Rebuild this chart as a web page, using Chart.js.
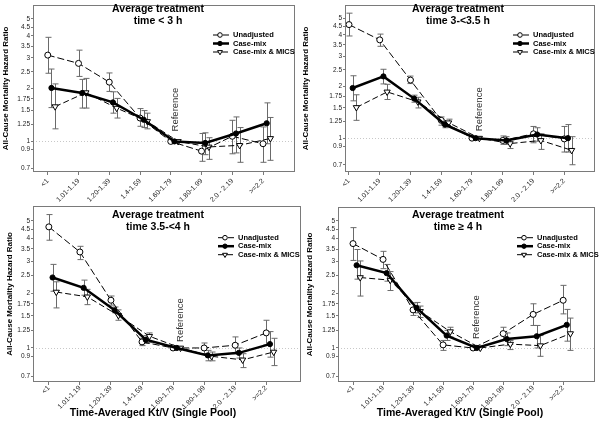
<!DOCTYPE html>
<html>
<head>
<meta charset="utf-8">
<script src="https://cdn.jsdelivr.net/npm/chart.js@4.4.0/dist/chart.umd.min.js"></script>
<style>
  body { margin: 0; background: #fff; width: 600px; height: 425px; position: relative; overflow: hidden; }
  canvas { position: absolute; }
</style>
</head>
<body>
<canvas id="p1" width="300" height="212" style="left:0;top:0"></canvas>
<canvas id="p2" width="300" height="212" style="left:300px;top:0"></canvas>
<canvas id="p3" width="306" height="225" style="left:0;top:200px"></canvas>
<canvas id="p4" width="300" height="225" style="left:300px;top:200px"></canvas>
<script>
// Kt/V categories and y ticks
const categories = ['<1', '1.01-1.19', '1.20-1.39', '1.4-1.59', '1.60-1.79', '1.80-1.99', '2.0 - 2.19', '>=2.2'];
const yTicks = [0.7, 0.9, 1, 1.25, 1.5, 1.75, 2, 2.5, 3, 3.5, 4, 4.5, 5];
const seriesNames = ['Unadjusted', 'Case-mix', 'Case-mix & MICS'];
const titleLines = ['time < 3 h', 'time 3-<3.5 h', 'time 3.5-<4 h', 'time \u2265 4 h'];
const xAxisTitle = 'Time-Averaged Kt/V (Single Pool)';
const yAxisTitle = 'All-Cause Mortality Hazard Ratio';
const refIndex = 4;

// time < 3 h
const t1Unadj = [3.11, 2.79, 2.18, 1.36, 1, 0.88, 1.07, 0.97];
const t1UnadjLo = [2.45, 2.35, 1.93, 1.22, null, 0.77, 0.85, 0.76];
const t1UnadjHi = [3.93, 3.32, 2.46, 1.54, null, 1.11, 1.32, 1.21];
const t1Case = [2.02, 1.89, 1.67, 1.33, 1, 0.98, 1.11, 1.27];
const t1CaseLo = [1.56, 1.55, 1.45, 1.2, null, 0.84, 0.86, 0.97];
const t1CaseHi = [2.59, 2.26, 1.92, 1.5, null, 1.12, 1.38, 1.66];
const t1Mics = [1.58, 1.9, 1.55, 1.3, 1, 0.93, 0.95, 1.04];
const t1MicsLo = [1.18, 1.55, 1.36, 1.18, null, 0.79, 0.76, 0.78];
const t1MicsHi = [2.13, 2.29, 1.76, 1.45, null, 1.05, 1.2, 1.37];

// time 3-<3.5 h
const t2Unadj = [4.59, 3.74, 2.18, 1.27, 1, 0.97, 1.06, 0.99];
const t2UnadjLo = [3.94, 3.43, 2.08, 1.19, null, 0.92, 0.94, 0.83];
const t2UnadjHi = [5.35, 4.04, 2.3, 1.33, null, 1.03, 1.17, 1.17];
const t2Case = [1.96, 2.29, 1.7, 1.2, 1, 0.97, 1.05, 1.0];
const t2CaseLo = [1.65, 2.07, 1.62, 1.15, null, 0.92, 0.96, 0.83];
const t2CaseHi = [2.31, 2.52, 1.78, 1.25, null, 1.02, 1.15, 1.2];
const t2Mics = [1.51, 1.86, 1.63, 1.23, 1, 0.93, 0.97, 0.85];
const t2MicsLo = [1.27, 1.68, 1.5, 1.17, null, 0.87, 0.86, 0.7];
const t2MicsHi = [1.79, 2.06, 1.73, 1.29, null, 0.99, 1.06, 1.02];

// time 3.5-<4 h
const t3Unadj = [4.63, 3.37, 1.83, 1.08, 1, 1.0, 1.035, 1.21];
const t3UnadjLo = [3.91, 3.06, 1.72, 1.03, null, 0.93, 0.93, 1.04];
const t3UnadjHi = [5.41, 3.62, 1.93, 1.13, null, 1.065, 1.15, 1.42];
const t3Case = [2.44, 2.14, 1.61, 1.11, 1, 0.91, 0.94, 1.05];
const t3CaseLo = [2.05, 1.95, 1.56, 1.06, null, 0.85, 0.88, 0.89];
const t3CaseHi = [2.88, 2.36, 1.68, 1.17, null, 0.97, 1.0, 1.23];
const t3Mics = [2.03, 1.91, 1.51, 1.16, 1, 0.9, 0.86, 0.95];
const t3MicsLo = [1.66, 1.73, 1.42, 1.07, null, 0.85, 0.78, 0.8];
const t3MicsHi = [2.31, 2.1, 1.62, 1.21, null, 0.95, 0.93, 1.13];

// time >= 4 h
const t4Unadj = [3.75, 3.07, 1.62, 1.04, 1, 1.2, 1.53, 1.83];
const t4UnadjLo = [3.03, 2.73, 1.51, 0.97, null, 1.1, 1.33, 1.54];
const t4UnadjHi = [4.59, 3.4, 1.77, 1.1, null, 1.3, 1.75, 2.21];
const t4Case = [2.85, 2.58, 1.66, 1.17, 1, 1.12, 1.16, 1.34];
const t4CaseLo = [2.39, 2.33, 1.56, 1.1, null, 1.03, 1.0, 1.09];
const t4CaseHi = [3.48, 2.88, 1.78, 1.25, null, 1.21, 1.33, 1.63];
const t4Mics = [2.44, 2.36, 1.59, 1.23, 1, 1.05, 1.03, 1.2];
const t4MicsLo = [1.93, 2.07, 1.47, 1.15, null, 0.98, 0.9, 0.97];
const t4MicsHi = [3.01, 2.63, 1.7, 1.3, null, 1.1, 1.17, 1.46];

const FONT = '"Liberation Sans", Arial, sans-serif';
Chart.defaults.font.family = FONT;
Chart.defaults.color = '#222';

// series look + small x shift so the bars don't overlap
const styles = [
  { shift: 0, borderWidth: 1, borderDash: [7, 3], pointStyle: 'circle', pointRadius: 3, legRadius: 2.3, pointRotation: 0, pointBackgroundColor: '#fff' },
  { shift: 0.12, borderWidth: 2.5, borderDash: [], pointStyle: 'circle', pointRadius: 2.6, legRadius: 2.2, pointRotation: 0, pointBackgroundColor: '#000' },
  { shift: 0.24, borderWidth: 1, borderDash: [6, 3], pointStyle: 'triangle', pointRadius: 3.6, legRadius: 2.8, pointRotation: 180, pointBackgroundColor: '#fff' },
];

const panels = [
  { id: 'p1', W: 300, H: 212, area: [33, 1, 297, 172], yMin: 0.669, yMax: 6.01, xMin: -0.48, xMax: 8.04,
    yTitlePad: 1.2, titleY: [9, 21], legX: 233, legY: 35, refDx: 0.15, refDy: -10, xTitle: null, tickPad: 2,
    series: [[t1Unadj, t1UnadjLo, t1UnadjHi], [t1Case, t1CaseLo, t1CaseHi], [t1Mics, t1MicsLo, t1MicsHi]] },
  { id: 'p2', W: 300, H: 212, area: [45, 1, 297, 172], yMin: 0.635, yMax: 5.97, xMin: -0.13, xMax: 8.0,
    yTitlePad: 1.2, titleY: [9, 21], legX: 233, legY: 35, refDx: 0.23, refDy: -7, xTitle: null, tickPad: 2,
    series: [[t2Unadj, t2UnadjLo, t2UnadjHi], [t2Case, t2CaseLo, t2CaseHi], [t2Mics, t2MicsLo, t2MicsHi]] },
  { id: 'p3', W: 306, H: 225, area: [33, 6, 303, 182], yMin: 0.65, yMax: 6.03, xMin: -0.51, xMax: 8.12,
    yTitlePad: 4.7, titleY: [15, 27], legX: 238, legY: 37.7, refDx: 0.24, refDy: -6, xTitle: [153, 213], tickPad: -1,
    series: [[t3Unadj, t3UnadjLo, t3UnadjHi], [t3Case, t3CaseLo, t3CaseHi], [t3Mics, t3MicsLo, t3MicsHi]] },
  { id: 'p4', W: 300, H: 225, area: [38, 7, 299, 182], yMin: 0.65, yMax: 5.96, xMin: -0.5, xMax: 8.06,
    yTitlePad: 4.7, titleY: [15, 27], legX: 237, legY: 37.7, refDx: 0.12, refDy: -9, xTitle: [160, 213], tickPad: -1,
    series: [[t4Unadj, t4UnadjLo, t4UnadjHi], [t4Case, t4CaseLo, t4CaseHi], [t4Mics, t4MicsLo, t4MicsHi]] },
];

const decor = {
  id: 'decor',
  beforeDatasetsDraw(chart, args, opts) {
    const { ctx, chartArea: a, scales: { x, y } } = chart;
    ctx.save();
    // dotted line at HR = 1
    const y1 = Math.round(y.getPixelForValue(1)) + 0.5;
    ctx.strokeStyle = '#c8c8c8';
    ctx.lineWidth = 1;
    ctx.setLineDash([1, 2]);
    ctx.beginPath();
    ctx.moveTo(a.left, y1);
    ctx.lineTo(a.right, y1);
    ctx.stroke();
    ctx.setLineDash([]);
    // confidence interval bars
    ctx.strokeStyle = '#6a6a6a';
    chart.data.datasets.forEach((ds) => {
      ds.data.forEach((p, i) => {
        if (ds.lo[i] == null) return;
        const px = Math.round(x.getPixelForValue(p.x)) + 0.5;
        const top = y.getPixelForValue(ds.hi[i]);
        const bot = y.getPixelForValue(ds.lo[i]);
        ctx.beginPath();
        ctx.moveTo(px, top); ctx.lineTo(px, bot);
        ctx.moveTo(px - 3, top); ctx.lineTo(px + 3, top);
        ctx.moveTo(px - 3, bot); ctx.lineTo(px + 3, bot);
        ctx.stroke();
      });
    });
    ctx.restore();
  },
  afterDraw(chart, args, opts) {
    const { ctx, chartArea: a, scales: { x, y } } = chart;
    ctx.save();
    // frame
    ctx.strokeStyle = '#7a7a7a';
    ctx.lineWidth = 1;
    ctx.strokeRect(a.left + 0.5, a.top + 0.5, a.right - a.left - 1, a.bottom - a.top - 1);
    // title
    ctx.fillStyle = '#000';
    ctx.font = 'bold 10.5px ' + FONT;
    ctx.textAlign = 'center';
    ctx.textBaseline = 'middle';
    ctx.fillText('Average treatment', 158, opts.titleY[0]);
    ctx.fillText(opts.subtitle, 158, opts.titleY[1]);
    // x axis title
    if (opts.xTitle) ctx.fillText(xAxisTitle, opts.xTitle[0], opts.xTitle[1]);
    // reference label
    ctx.save();
    ctx.font = '9.5px ' + FONT;
    ctx.fillStyle = '#333';
    ctx.translate(x.getPixelForValue(refIndex + opts.refDx), y.getPixelForValue(1) + opts.refDy);
    ctx.rotate(-Math.PI / 2);
    ctx.textAlign = 'left';
    ctx.fillText('Reference', 0, 0);
    ctx.restore();
    // legend
    chart.data.datasets.forEach((ds, i) => {
      const ly = opts.legY + i * 8.5;
      ctx.strokeStyle = '#000';
      ctx.lineWidth = ds.borderWidth;
      ctx.setLineDash(ds.borderDash);
      ctx.beginPath();
      ctx.moveTo(opts.legX - 20, ly);
      ctx.lineTo(opts.legX - 4, ly);
      ctx.stroke();
      ctx.setLineDash([]);
      ctx.fillStyle = ds.pointBackgroundColor;
      ctx.lineWidth = 1;
      Chart.helpers.drawPoint(ctx, { pointStyle: ds.pointStyle, radius: ds.legRadius, rotation: ds.pointRotation, borderWidth: 1 },
        opts.legX - 13, ly);
      ctx.fillStyle = '#000';
      ctx.font = 'bold 7.5px ' + FONT;
      ctx.textAlign = 'left';
      ctx.fillText(ds.label, opts.legX, ly);
    });
    ctx.restore();
  },
};

panels.forEach((p, pi) => {
  const [left, top, right, bottom] = p.area;
  const datasets = p.series.map(([vals, lo, hi], si) => {
    const st = styles[si];
    return {
      label: seriesNames[si],
      data: vals.map((v, i) => ({ x: i + st.shift, y: v })),
      lo: lo,
      hi: hi,
      legRadius: st.legRadius,
      borderColor: '#000',
      borderWidth: st.borderWidth,
      borderDash: st.borderDash,
      pointStyle: st.pointStyle,
      pointRadius: st.pointRadius,
      pointRotation: st.pointRotation,
      pointBackgroundColor: st.pointBackgroundColor,
      pointBorderColor: '#000',
      pointBorderWidth: 1,
      order: si === 1 ? 0 : si + 1,
      tension: 0,
      clip: false,
    };
  });

  new Chart(document.getElementById(p.id), {
    type: 'line',
    data: { datasets },
    options: {
      responsive: false,
      animation: false,
      layout: { padding: { left: 0, top: top, right: p.W - right, bottom: 0 } },
      plugins: {
        legend: { display: false },
        tooltip: { enabled: false },
        decor: {
          subtitle: titleLines[pi], titleY: p.titleY, xTitle: p.xTitle,
          legX: p.legX, legY: p.legY, refDx: p.refDx, refDy: p.refDy,
        },
      },
      scales: {
        x: {
          type: 'linear',
          min: p.xMin,
          max: p.xMax,
          bounds: 'data',
          border: { display: false },
          grid: { display: true, drawOnChartArea: false, drawTicks: true, tickLength: 3, color: '#7a7a7a' },
          ticks: {
            autoSkip: false,
            minRotation: 45,
            maxRotation: 45,
            padding: p.tickPad,
            font: { size: 7 },
            callback: (v) => categories[v] ?? '',
          },
          afterBuildTicks: (s) => { s.ticks = categories.map((c, i) => ({ value: i })); },
          afterFit: (s) => { s.height = p.H - bottom; s.paddingLeft = 0; s.paddingRight = 0; },
        },
        y: {
          type: 'logarithmic',
          min: p.yMin,
          max: p.yMax,
          bounds: 'data',
          border: { display: false },
          grid: { display: true, drawOnChartArea: false, drawTicks: true, tickLength: 2, color: '#7a7a7a' },
          ticks: {
            padding: 1,
            font: { size: 6.5 },
            callback: (v) => String(v),
          },
          title: {
            display: true,
            text: yAxisTitle,
            color: '#000',
            font: { size: 8, weight: 'bold' },
            padding: { top: p.yTitlePad, bottom: 0 },
          },
          afterBuildTicks: (s) => { s.ticks = yTicks.map((v) => ({ value: v })); },
          afterFit: (s) => { s.width = left; s.paddingTop = 0; s.paddingBottom = 0; },
        },
      },
    },
    plugins: [decor],
  });
});
</script>
</body>
</html>
